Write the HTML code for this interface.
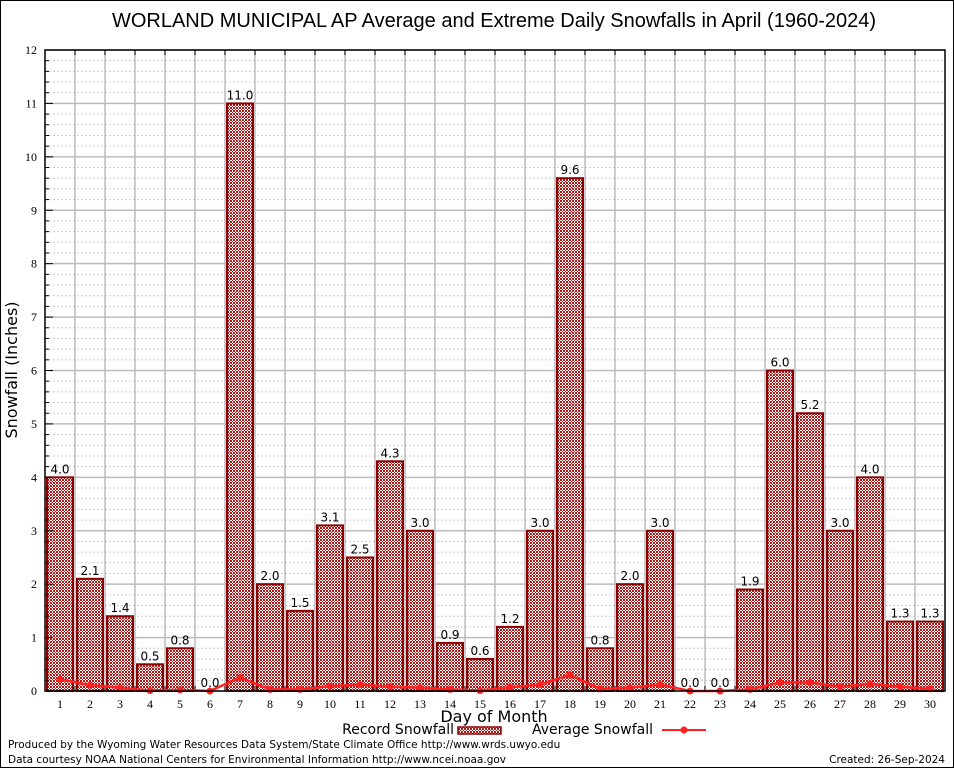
<!DOCTYPE html>
<html><head><meta charset="utf-8"><style>
body{margin:0;background:#fff}
svg{display:block;font-family:"DejaVu Sans","Liberation Sans",sans-serif}
</style></head><body>
<svg id="c" width="954" height="768" viewBox="0 0 954 768">
<defs>
<pattern id="hatch" width="3" height="3" patternUnits="userSpaceOnUse">
<rect width="3" height="3" fill="#fff"/>
<rect width="1" height="1" fill="#b01818"/><rect x="2" y="0" width="1" height="1" fill="#b01818"/>
<rect x="1" y="1" width="1" height="1" fill="#b01818"/>
<rect x="0" y="2" width="1" height="1" fill="#b01818"/><rect x="2" y="2" width="1" height="1" fill="#b01818"/>
</pattern>
</defs>
<rect x="0.5" y="0.5" width="953" height="767" fill="#fff" stroke="#000"/>
<text x="494" y="27" font-size="20" text-anchor="middle" font-family="Liberation Sans, sans-serif">WORLAND MUNICIPAL AP Average and Extreme Daily Snowfalls in April (1960-2024)</text>
<g id="grid"></g>
<g id="bars"></g>
<g id="avg"></g>
<g id="axes"></g>
<text x="17" y="370" font-size="16" text-anchor="middle" transform="rotate(-90 17 370)">Snowfall (Inches)</text>
<text x="494" y="722" font-size="16" text-anchor="middle">Day of Month</text>
<g>
<text x="454" y="734" font-size="14" text-anchor="end">Record Snowfall</text>
<rect x="458" y="727" width="43" height="7" fill="url(#hatch)" stroke="#8b0000" stroke-width="1.5"/>
<text x="653" y="734" font-size="14" text-anchor="end">Average Snowfall</text>
<line x1="662" y1="730" x2="706" y2="730" stroke="#ff2020" stroke-width="2"/>
<circle cx="684" cy="730" r="3.5" fill="#ff2020"/>
</g>
<text x="8" y="748" font-size="10.5">Produced by the Wyoming Water Resources Data System/State Climate Office http://www.wrds.uwyo.edu</text>
<text x="8" y="763" font-size="10.5">Data courtesy NOAA National Centers for Environmental Information http://www.ncei.noaa.gov</text>
<text x="945" y="763" font-size="10.5" text-anchor="end">Created: 26-Sep-2024</text>
</svg>
<script>
const days=[1,2,3,4,5,6,7,8,9,10,11,12,13,14,15,16,17,18,19,20,21,22,23,24,25,26,27,28,29,30];
const recordSnow=[4.0,2.1,1.4,0.5,0.8,0.0,11.0,2.0,1.5,3.1,2.5,4.3,3.0,0.9,0.6,1.2,3.0,9.6,0.8,2.0,3.0,0.0,0.0,1.9,6.0,5.2,3.0,4.0,1.3,1.3];
const avgSnow=[0.22,0.11,0.06,0.01,0.02,0.0,0.25,0.03,0.03,0.09,0.12,0.08,0.06,0.03,0.01,0.07,0.12,0.30,0.04,0.06,0.12,0.0,0.0,0.03,0.16,0.16,0.08,0.13,0.08,0.04];
const yTicks=[0,1,2,3,4,5,6,7,8,9,10,11,12];

const NS='http://www.w3.org/2000/svg';
const L=45,R=945,T=50,B=691,yMax=12;
const slot=(R-L)/days.length;
const xC=i=>L+slot*(i+0.5);
const yS=v=>B-(v/yMax)*(B-T);
function mk(tag,attrs,parent){const e=document.createElementNS(NS,tag);for(const k in attrs)e.setAttribute(k,attrs[k]);parent.appendChild(e);return e;}
const grid=document.getElementById('grid'),bars=document.getElementById('bars'),avg=document.getElementById('avg'),axes=document.getElementById('axes');

for(let v=0;v<=yMax+1e-9;v+=0.2){
  const major=Math.abs(v-Math.round(v))<1e-6;
  const l=mk('line',{x1:L,x2:R,y1:yS(v),y2:yS(v),stroke:major?'#bbb':'#ccc','stroke-width':major?1.5:1,'stroke-dasharray':major?'':'2,2'},grid);
  
  
}
for(let i=1;i<days.length;i++){
  const x=L+slot*i;
  const l=mk('line',{x1:x,x2:x,y1:T,y2:B,stroke:'#bbb','stroke-width':1.5},grid);
  
  
  const t=mk('line',{x1:x,x2:x,y1:T,y2:T+5,stroke:'#000'},grid);
  
  
  const tb=mk('line',{x1:x,x2:x,y1:B,y2:B-5,stroke:'#000'},grid);
  
  
}

days.forEach((d,i)=>{
  const v=recordSnow[i];
  if(v>0){
    const r=mk('rect',{x:xC(i)-13,y:yS(v),width:26,height:B-yS(v),fill:'url(#hatch)',stroke:'#8b0000','stroke-width':2},bars);
    
    
  }
  const t=mk('text',{x:xC(i),y:yS(v)-4,'font-size':12,'text-anchor':'middle'},bars);
  t.textContent=v.toFixed(1);
  
  
  const xl=mk('text',{x:xC(i),y:B+17,'font-size':12,'text-anchor':'middle','font-family':'Liberation Serif, serif'},axes);
  xl.textContent=d;
  
  
});

const pts=avgSnow.map((v,i)=>xC(i)+','+yS(v)).join(' ');
const pl=mk('polyline',{points:pts,fill:'none',stroke:'#ff2020','stroke-width':2.5},avg);


avgSnow.forEach((v,i)=>{
  const c=mk('circle',{cx:xC(i),cy:yS(v),r:3.5,fill:'#ff2020'},avg);
  
  
});

yTicks.forEach(v=>{
  const t=mk('text',{x:L-8,y:yS(v)+4,'font-size':12,'text-anchor':'end','font-family':'Liberation Serif, serif'},axes);
  t.textContent=v;
  
  
});
for(let v=0;v<=yMax+1e-9;v+=0.2){
  const major=Math.abs(v-Math.round(v))<1e-6;
  const t=mk('line',{x1:L,x2:L+(major?8:4),y1:yS(v),y2:yS(v),stroke:'#000'},axes);
  
  
}
const fr=mk('rect',{x:L,y:T,width:R-L,height:B-T,fill:'none',stroke:'#000','stroke-width':1.5},axes);


</script>
</body></html>
